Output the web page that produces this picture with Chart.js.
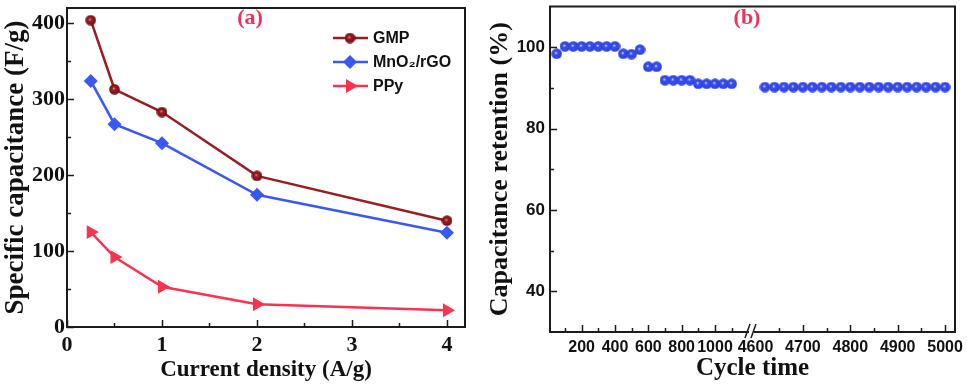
<!DOCTYPE html>
<html>
<head>
<meta charset="utf-8">
<script src="https://cdn.jsdelivr.net/npm/chart.js@4.4.1/dist/chart.umd.min.js"></script>
<style>
  html, body { margin: 0; padding: 0; background: #fff; }
  #wrap { position: relative; width: 967px; height: 389px; }
  canvas { position: absolute; top: 0; }
  #rateChart { left: 0; }
  #cycleChart { left: 480px; }
</style>
</head>
<body>
<div id="wrap">
  <canvas id="rateChart" width="480" height="389"></canvas>
  <canvas id="cycleChart" width="487" height="389"></canvas>
</div>
<script>
// (a) specific capacitance vs current density
const currentDensity = [0.25, 0.5, 1, 2, 4];
const gmpCap = [404, 313, 283, 199, 140];
const mnoCap = [324, 267, 242, 174, 124];
const ppyCap = [125, 92, 53, 30, 22];
const densityTicks = [0, 0.5, 1, 1.5, 2, 2.5, 3, 3.5, 4];
const capTicks = [0, 50, 100, 150, 200, 250, 300, 350, 400];

// (b) capacitance retention vs cycle number
const cycleNum = [50, 100, 150, 200, 250, 300, 350, 400, 450, 500, 550, 600, 650, 700, 750, 800, 850, 900, 950, 1000, 1050, 1100,
  4620, 4640, 4660, 4680, 4700, 4720, 4740, 4760, 4780, 4800, 4820, 4840, 4860, 4880, 4900, 4920, 4940, 4960, 4980, 5000];
const retention = [98.4, 100.2, 100.2, 100.2, 100.2, 100.2, 100.2, 100.2, 98.4, 98.3, 99.4, 95.2, 95.2, 91.9, 91.9, 91.9, 91.9, 91.0, 91.0, 91.0, 91.0, 91.0,
  90.2, 90.2, 90.2, 90.2, 90.2, 90.2, 90.2, 90.2, 90.2, 90.2, 90.2, 90.2, 90.2, 90.2, 90.2, 90.2, 90.2, 90.2, 90.2, 90.2];
const cycleLabels = [200, 400, 600, 800, 1000, 4600, 4700, 4800, 4900, 5000];
const cycleMinor = [100, 300, 500, 700, 900, 1100, 4650, 4750, 4850, 4950];
const retentionTicks = [40, 50, 60, 70, 80, 90, 100];

// broken axis: first part in cycles, second part stretched after the gap
const BREAK_X = 1222;
function cycleToX(c) {
  return c <= 1200 ? c : 1243 + (c - 4600) * 2.844;
}

const serifBold = (size) => ({ family: '"Liberation Serif", "Times New Roman", serif', weight: 'bold', size: size });
const sansBold = (size) => ({ family: '"Liberation Sans", Arial, sans-serif', weight: 'bold', size: size });

// keep the plot box where it is, labels may overflow
function fixBox(s, size) {
  if (s.isHorizontal()) s.height = size; else s.width = size;
  s.paddingTop = 0;
  s.paddingBottom = 0;
  s.paddingLeft = 0;
  s.paddingRight = 0;
}

function ballImage(size, light, base, dark) {
  const c = document.createElement('canvas');
  c.width = c.height = size;
  const g = c.getContext('2d');
  const r = size / 2;
  const grad = g.createRadialGradient(r * 0.85, r * 0.85, 0, r, r, r);
  grad.addColorStop(0, light);
  grad.addColorStop(0.3, base);
  grad.addColorStop(1, dark);
  g.fillStyle = grad;
  g.beginPath();
  g.arc(r, r, r - 0.2, 0, Math.PI * 2);
  g.fill();
  return c;
}

const gmpBall = ballImage(11, '#f0a0a0', '#9e1f25', '#6b0d12');
const blueBall = ballImage(11, '#f2f4ff', '#3a50f2', '#2b3fe0');

// frame round the plot and inward tick marks
const frameTicks = {
  id: 'frameTicks',
  afterDraw(chart) {
    const { ctx, chartArea: a, scales: { x, y } } = chart;
    ctx.save();
    ctx.strokeStyle = '#1c1c1c';
    ctx.lineWidth = 1.5;
    ctx.beginPath();
    x.ticks.forEach(t => {
      if (t.noMark) return;
      const px = Math.round(x.getPixelForValue(t.value)) + 0.5;
      const len = t.label !== '' ? 7 : 4;
      ctx.moveTo(px, a.bottom);
      ctx.lineTo(px, a.bottom - len);
    });
    y.ticks.forEach(t => {
      const py = Math.round(y.getPixelForValue(t.value)) + 0.5;
      const len = t.label !== '' ? 7 : 4;
      ctx.moveTo(a.left, py);
      ctx.lineTo(a.left + len, py);
    });
    ctx.stroke();
    ctx.lineWidth = 2;
    ctx.strokeRect(a.left, a.top, a.right - a.left, a.bottom - a.top);
    ctx.restore();
  }
};

const panelTag = {
  id: 'panelTag',
  afterDraw(chart, args, opts) {
    const ctx = chart.ctx;
    ctx.save();
    ctx.fillStyle = '#f0325a';
    ctx.font = 'bold 22px "Liberation Serif", serif';
    ctx.textAlign = 'center';
    ctx.textBaseline = 'middle';
    ctx.fillText(opts.text, opts.x, opts.y);
    ctx.restore();
  }
};

// legend drawn as line + marker like the original
const lineLegend = {
  id: 'lineLegend',
  afterDraw(chart) {
    const ctx = chart.ctx;
    const rows = [38, 62, 86];
    ctx.save();
    chart.data.datasets.forEach((ds, i) => {
      const yy = rows[i];
      ctx.strokeStyle = ds.borderColor;
      ctx.lineWidth = 2.5;
      ctx.beginPath();
      ctx.moveTo(333, yy);
      ctx.lineTo(368, yy);
      ctx.stroke();
      const cx = 350;
      ctx.fillStyle = ds.borderColor;
      if (ds.pointStyle instanceof HTMLCanvasElement) {
        ctx.drawImage(ds.pointStyle, cx - ds.pointStyle.width / 2, yy - ds.pointStyle.height / 2);
      } else if (ds.pointStyle === 'rectRot') {
        const r = ds.pointRadius;
        ctx.beginPath();
        ctx.moveTo(cx, yy - r); ctx.lineTo(cx + r, yy); ctx.lineTo(cx, yy + r); ctx.lineTo(cx - r, yy);
        ctx.closePath(); ctx.fill();
      } else {
        const r = ds.pointRadius;
        ctx.beginPath();
        ctx.moveTo(cx + r, yy); ctx.lineTo(cx - r / 2, yy - r * 0.866); ctx.lineTo(cx - r / 2, yy + r * 0.866);
        ctx.closePath(); ctx.fill();
      }
      ctx.fillStyle = '#111';
      ctx.font = 'bold 16px "Liberation Sans", Arial, sans-serif';
      ctx.textBaseline = 'middle';
      ctx.fillText(ds.label, 373, yy + 1);
    });
    ctx.restore();
  }
};

const axisBreak = {
  id: 'axisBreak',
  afterDraw(chart) {
    const { ctx, chartArea: a, scales: { x } } = chart;
    const px = x.getPixelForValue(BREAK_X);
    ctx.save();
    ctx.fillStyle = '#fff';
    ctx.fillRect(px - 3, a.bottom - 2, 5, 4);
    ctx.strokeStyle = '#1c1c1c';
    ctx.lineWidth = 1.5;
    ctx.beginPath();
    ctx.moveTo(px - 7, a.bottom + 6); ctx.lineTo(px - 2, a.bottom - 8);
    ctx.moveTo(px - 1, a.bottom + 6); ctx.lineTo(px + 4, a.bottom - 8);
    ctx.stroke();
    ctx.restore();
  }
};

new Chart(document.getElementById('rateChart'), {
  type: 'line',
  data: {
    labels: currentDensity,
    datasets: [
      {
        label: 'GMP',
        data: currentDensity.map((d, i) => ({ x: d, y: gmpCap[i] })),
        borderColor: '#9b1d22',
        backgroundColor: '#9b1d22',
        borderWidth: 2.5,
        pointStyle: gmpBall,
        pointRadius: 5.5
      },
      {
        label: 'MnO\u2082/rGO',
        data: currentDensity.map((d, i) => ({ x: d, y: mnoCap[i] })),
        borderColor: '#3a58f4',
        backgroundColor: '#3a58f4',
        borderWidth: 2.5,
        pointStyle: 'rectRot',
        pointRadius: 7,
        pointBorderWidth: 0
      },
      {
        label: 'PPy',
        data: currentDensity.map((d, i) => ({ x: d, y: ppyCap[i] })),
        borderColor: '#f8334f',
        backgroundColor: '#f8334f',
        borderWidth: 2.5,
        pointStyle: 'triangle',
        pointRotation: 90,
        pointRadius: 8,
        pointBorderWidth: 0
      }
    ]
  },
  options: {
    responsive: false,
    animation: false,
    layout: { padding: { top: 4, right: 15, left: 0, bottom: 0 } },
    plugins: {
      legend: { display: false },
      tooltip: { enabled: false },
      panelTag: { text: '(a)', x: 250, y: 18 }
    },
    scales: {
      x: {
        type: 'linear',
        min: 0,
        max: 4.19,
        afterBuildTicks: s => { s.ticks = densityTicks.map(v => ({ value: v })); },
        afterFit: s => fixBox(s, 62),
        grid: { display: false, drawTicks: false },
        border: { display: false },
        ticks: {
          autoSkip: false,
          maxRotation: 0,
          padding: 5,
          color: '#111',
          font: serifBold(22),
          callback: v => Number.isInteger(v) ? v : ''
        },
        title: { display: true, text: 'Current density (A/g)', color: '#111', font: serifBold(23), padding: { top: 0, bottom: 5 } }
      },
      y: {
        min: 0,
        max: 420,
        afterBuildTicks: s => { s.ticks = capTicks.map(v => ({ value: v })); },
        afterFit: s => fixBox(s, 67),
        grid: { display: false, drawTicks: false },
        border: { display: false },
        ticks: {
          autoSkip: false,
          padding: 2,
          color: '#111',
          font: serifBold(22),
          callback: v => v % 100 === 0 ? v : ''
        },
        title: { display: true, text: 'Specific capacitance (F/g)', color: '#111', font: serifBold(27), padding: { top: 0, bottom: 0 } }
      }
    }
  },
  plugins: [frameTicks, panelTag, lineLegend]
});

new Chart(document.getElementById('cycleChart'), {
  type: 'scatter',
  data: {
    datasets: [{
      label: 'Retention',
      data: cycleNum.map((c, i) => ({ x: cycleToX(c), y: retention[i] })),
      pointStyle: blueBall,
      pointRadius: 5.5,
      backgroundColor: '#3a50f2',
      borderColor: '#3a50f2'
    }]
  },
  options: {
    responsive: false,
    animation: false,
    layout: { padding: { top: 4, right: 12, left: 0, bottom: 0 } },
    plugins: {
      legend: { display: false },
      tooltip: { enabled: false },
      panelTag: { text: '(b)', x: 267, y: 18 }
    },
    scales: {
      x: {
        type: 'linear',
        min: 10,
        max: 2440,
        afterBuildTicks: s => {
          const major = cycleLabels.map(c => ({ value: cycleToX(c), cycle: c, noMark: c === 4600 }));
          const minor = cycleMinor.map(c => ({ value: cycleToX(c), cycle: null }));
          s.ticks = major.concat(minor).sort((p, q) => p.value - q.value);
        },
        afterFit: s => fixBox(s, 57),
        grid: { display: false, drawTicks: false },
        border: { display: false },
        ticks: {
          autoSkip: false,
          maxRotation: 0,
          padding: 6,
          color: '#111',
          font: sansBold(16),
          callback: (v, i, ticks) => ticks[i].cycle ? String(ticks[i].cycle) : ''
        },
        title: { display: true, text: 'Cycle time', color: '#111', font: serifBold(25), padding: { top: 0, bottom: 5 } }
      },
      y: {
        min: 30,
        max: 110,
        afterBuildTicks: s => { s.ticks = retentionTicks.map(v => ({ value: v })); },
        afterFit: s => fixBox(s, 70),
        grid: { display: false, drawTicks: false },
        border: { display: false },
        ticks: {
          autoSkip: false,
          padding: 5,
          color: '#111',
          font: sansBold(17),
          callback: v => v % 20 === 0 ? v : ''
        },
        title: { display: true, text: 'Capacitance retention (%)', color: '#111', font: serifBold(26), padding: { top: 5, bottom: 0 } }
      }
    }
  },
  plugins: [frameTicks, panelTag, axisBreak]
});
</script>
</body>
</html>
